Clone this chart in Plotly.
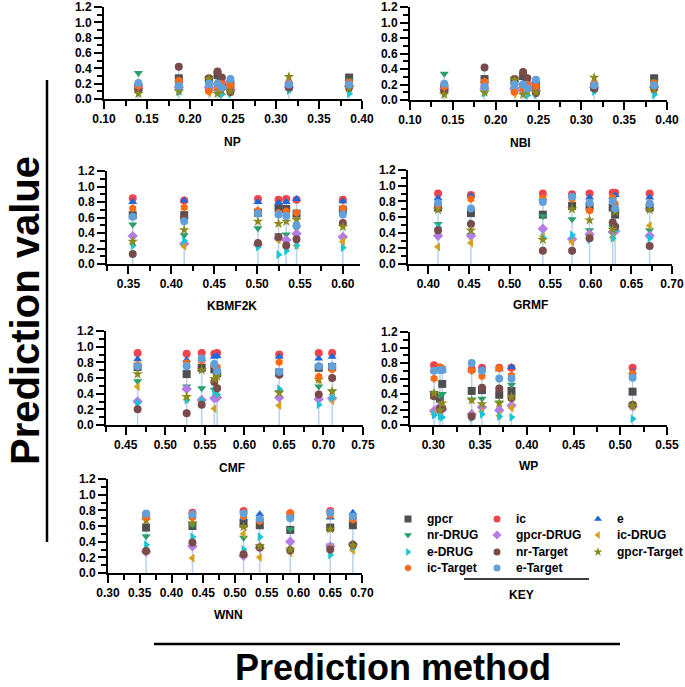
import plotly.graph_objects as go

# ---------------- data ----------------
SERIES = ["gpcr", "ic", "e", "nr-DRUG", "gpcr-DRUG", "ic-DRUG", "e-DRUG",
          "nr-Target", "gpcr-Target", "ic-Target", "e-Target"]

NP_X = [0.140, 0.187, 0.222, 0.232, 0.237, 0.247, 0.315, 0.385]
NP_Y = {
    "gpcr":        [0.15, 0.27, 0.25, 0.31, 0.18, 0.15, 0.17, 0.28],
    "ic":          [0.18, 0.22, 0.12, 0.18, 0.16, 0.20, 0.20, 0.21],
    "e":           [0.20, 0.20, 0.18, 0.22, 0.20, 0.24, 0.22, 0.20],
    "nr-DRUG":     [0.34, 0.10, 0.22, 0.10, 0.12, 0.22, 0.14, 0.24],
    "gpcr-DRUG":   [0.14, 0.15, 0.15, 0.12, 0.22, 0.12, 0.16, 0.17],
    "ic-DRUG":     [0.10, 0.12, 0.08, 0.08, 0.10, 0.14, 0.13, 0.11],
    "e-DRUG":      [0.08, 0.09, 0.13, 0.09, 0.06, 0.07, 0.11, 0.07],
    "nr-Target":   [0.12, 0.42, 0.27, 0.36, 0.28, 0.09, 0.15, 0.15],
    "gpcr-Target": [0.07, 0.10, 0.26, 0.07, 0.11, 0.10, 0.29, 0.14],
    "ic-Target":   [0.17, 0.24, 0.10, 0.15, 0.20, 0.18, 0.21, 0.22],
    "e-Target":    [0.21, 0.17, 0.20, 0.20, 0.15, 0.26, 0.19, 0.19],
}

NBI_X = [0.140, 0.187, 0.222, 0.232, 0.237, 0.247, 0.315, 0.385]
NBI_Y = {
    "gpcr":        [0.15, 0.27, 0.25, 0.31, 0.18, 0.15, 0.17, 0.28],
    "ic":          [0.18, 0.22, 0.12, 0.18, 0.16, 0.20, 0.20, 0.21],
    "e":           [0.20, 0.20, 0.18, 0.22, 0.20, 0.24, 0.22, 0.20],
    "nr-DRUG":     [0.34, 0.10, 0.22, 0.10, 0.12, 0.22, 0.14, 0.24],
    "gpcr-DRUG":   [0.14, 0.15, 0.15, 0.12, 0.22, 0.12, 0.16, 0.17],
    "ic-DRUG":     [0.10, 0.12, 0.08, 0.08, 0.10, 0.14, 0.13, 0.11],
    "e-DRUG":      [0.08, 0.09, 0.13, 0.09, 0.06, 0.07, 0.11, 0.07],
    "nr-Target":   [0.12, 0.42, 0.27, 0.36, 0.28, 0.09, 0.15, 0.15],
    "gpcr-Target": [0.07, 0.10, 0.26, 0.07, 0.11, 0.10, 0.29, 0.14],
    "ic-Target":   [0.17, 0.24, 0.10, 0.15, 0.20, 0.18, 0.21, 0.22],
    "e-Target":    [0.21, 0.17, 0.20, 0.20, 0.15, 0.26, 0.19, 0.19],
}

KBMF_X = [0.355, 0.415, 0.501, 0.525, 0.534, 0.546, 0.600]
KBMF_Y = {
    "gpcr":        [0.63, 0.63, 0.66, 0.72, 0.71, 0.65, 0.70],
    "ic":          [0.85, 0.82, 0.84, 0.83, 0.84, 0.83, 0.83],
    "e":           [0.80, 0.82, 0.80, 0.79, 0.80, 0.84, 0.81],
    "nr-DRUG":     [0.51, 0.37, 0.46, 0.37, 0.38, 0.46, 0.34],
    "gpcr-DRUG":   [0.36, 0.26, 0.25, 0.33, 0.31, 0.39, 0.35],
    "ic-DRUG":     [0.26, 0.23, 0.25, 0.31, 0.22, 0.24, 0.29],
    "e-DRUG":      [0.24, 0.30, 0.22, 0.12, 0.17, 0.24, 0.21],
    "nr-Target":   [0.13, 0.59, 0.27, 0.35, 0.24, 0.32, 0.53],
    "gpcr-Target": [0.29, 0.44, 0.55, 0.52, 0.55, 0.57, 0.48],
    "ic-Target":   [0.72, 0.73, 0.69, 0.66, 0.68, 0.66, 0.72],
    "e-Target":    [0.61, 0.55, 0.65, 0.64, 0.62, 0.50, 0.64],
}

GRMF_X = [0.412, 0.4525, 0.541, 0.577, 0.5985, 0.627, 0.630, 0.6725]
GRMF_Y = {
    "gpcr":        [0.72, 0.65, 0.63, 0.74, 0.73, 0.72, 0.63, 0.72],
    "ic":          [0.90, 0.88, 0.90, 0.89, 0.90, 0.91, 0.91, 0.90],
    "e":           [0.84, 0.87, 0.84, 0.87, 0.85, 0.86, 0.88, 0.85],
    "nr-DRUG":     [0.51, 0.37, 0.61, 0.57, 0.43, 0.47, 0.44, 0.43],
    "gpcr-DRUG":   [0.36, 0.36, 0.45, 0.32, 0.38, 0.41, 0.42, 0.36],
    "ic-DRUG":     [0.22, 0.27, 0.35, 0.28, 0.35, 0.34, 0.45, 0.49],
    "e-DRUG":      [0.47, 0.52, 0.34, 0.37, 0.31, 0.33, 0.43, 0.33],
    "nr-Target":   [0.43, 0.51, 0.17, 0.17, 0.33, 0.53, 0.48, 0.23],
    "gpcr-Target": [0.69, 0.43, 0.31, 0.70, 0.56, 0.44, 0.67, 0.69],
    "ic-Target":   [0.75, 0.83, 0.84, 0.83, 0.68, 0.85, 0.77, 0.78],
    "e-Target":    [0.78, 0.71, 0.79, 0.86, 0.78, 0.80, 0.71, 0.77],
}

CMF_X = [0.465, 0.527, 0.546, 0.562, 0.5655, 0.644, 0.694, 0.711]
CMF_Y = {
    "gpcr":        [0.74, 0.65, 0.73, 0.71, 0.66, 0.67, 0.73, 0.74],
    "ic":          [0.92, 0.91, 0.92, 0.91, 0.92, 0.90, 0.92, 0.92],
    "e":           [0.84, 0.83, 0.84, 0.87, 0.88, 0.87, 0.85, 0.87],
    "nr-DRUG":     [0.56, 0.49, 0.47, 0.45, 0.65, 0.42, 0.49, 0.43],
    "gpcr-DRUG":   [0.30, 0.46, 0.32, 0.34, 0.35, 0.35, 0.33, 0.34],
    "ic-DRUG":     [0.49, 0.33, 0.30, 0.21, 0.40, 0.25, 0.57, 0.31],
    "e-DRUG":      [0.28, 0.32, 0.31, 0.43, 0.39, 0.46, 0.26, 0.35],
    "nr-Target":   [0.20, 0.15, 0.26, 0.55, 0.47, 0.64, 0.39, 0.60],
    "gpcr-Target": [0.65, 0.36, 0.70, 0.59, 0.62, 0.41, 0.58, 0.43],
    "ic-Target":   [0.77, 0.79, 0.82, 0.76, 0.74, 0.80, 0.62, 0.71],
    "e-Target":    [0.75, 0.75, 0.85, 0.78, 0.69, 0.68, 0.75, 0.75],
}

WP_X = [0.3007, 0.307, 0.3095, 0.341, 0.352, 0.3705, 0.3836, 0.5132]
WP_Y = {
    "gpcr":        [0.39, 0.34, 0.53, 0.44, 0.45, 0.39, 0.44, 0.43],
    "ic":          [0.77, 0.74, 0.72, 0.72, 0.74, 0.74, 0.74, 0.74],
    "e":           [0.70, 0.72, 0.70, 0.71, 0.72, 0.72, 0.75, 0.68],
    "nr-DRUG":     [0.41, 0.38, 0.40, 0.33, 0.34, 0.29, 0.52, 0.26],
    "gpcr-DRUG":   [0.18, 0.24, 0.20, 0.14, 0.23, 0.19, 0.25, 0.24],
    "ic-DRUG":     [0.14, 0.18, 0.24, 0.12, 0.17, 0.12, 0.22, 0.24],
    "e-DRUG":      [0.13, 0.11, 0.10, 0.09, 0.14, 0.11, 0.10, 0.08],
    "nr-Target":   [0.37, 0.21, 0.22, 0.11, 0.48, 0.47, 0.35, 0.26],
    "gpcr-Target": [0.41, 0.19, 0.28, 0.32, 0.27, 0.28, 0.36, 0.25],
    "ic-Target":   [0.60, 0.75, 0.73, 0.70, 0.63, 0.73, 0.64, 0.66],
    "e-Target":    [0.70, 0.71, 0.71, 0.80, 0.70, 0.60, 0.60, 0.61],
}

WNN_X = [0.360, 0.433, 0.5135, 0.539, 0.587, 0.650, 0.6856]
WNN_Y = {
    "gpcr":        [0.58, 0.60, 0.63, 0.61, 0.55, 0.58, 0.61],
    "ic":          [0.75, 0.77, 0.79, 0.68, 0.76, 0.79, 0.70],
    "e":           [0.73, 0.73, 0.70, 0.75, 0.74, 0.71, 0.77],
    "nr-DRUG":     [0.47, 0.62, 0.45, 0.34, 0.56, 0.35, 0.36],
    "gpcr-DRUG":   [0.27, 0.34, 0.22, 0.32, 0.40, 0.34, 0.36],
    "ic-DRUG":     [0.30, 0.19, 0.50, 0.20, 0.26, 0.32, 0.29],
    "e-DRUG":      [0.36, 0.46, 0.30, 0.46, 0.29, 0.23, 0.33],
    "nr-Target":   [0.28, 0.39, 0.24, 0.33, 0.29, 0.30, 0.36],
    "gpcr-Target": [0.67, 0.64, 0.59, 0.34, 0.30, 0.56, 0.35],
    "ic-Target":   [0.71, 0.71, 0.72, 0.66, 0.77, 0.74, 0.68],
    "e-Target":    [0.76, 0.75, 0.76, 0.69, 0.70, 0.77, 0.72],
}

PANEL_NAMES = ["NP", "NBI", "KBMF2K", "GRMF", "CMF", "WP", "WNN"]
PANEL_X = [NP_X, NBI_X, KBMF_X, GRMF_X, CMF_X, WP_X, WNN_X]
PANEL_Y = [NP_Y, NBI_Y, KBMF_Y, GRMF_Y, CMF_Y, WP_Y, WNN_Y]
X_RANGES = [[0.10, 0.40], [0.10, 0.40], [0.325, 0.62], [0.375, 0.70],
            [0.425, 0.75], [0.275, 0.55], [0.30, 0.70]]

# ---------------- styles ----------------
W, H = 685, 687
FONT = "Arial, 'Liberation Sans', sans-serif"
STYLE = {
    "gpcr":        dict(symbol="square", color="#4f4f4f"),
    "ic":          dict(symbol="circle", color="#f0444c"),
    "e":           dict(symbol="triangle-up", color="#1f68d8"),
    "nr-DRUG":     dict(symbol="triangle-down", color="#2b9f6b"),
    "gpcr-DRUG":   dict(symbol="diamond", color="#b47de6"),
    "ic-DRUG":     dict(symbol="triangle-left", color="#d6a01c"),
    "e-DRUG":      dict(symbol="triangle-right", color="#19c4d4"),
    "nr-Target":   dict(symbol="circle", color="#7a4b4b"),
    "gpcr-Target": dict(symbol="star", color="#8b8a1e"),
    "ic-Target":   dict(symbol="hexagon", color="#ff6a12"),
    "e-Target":    dict(symbol="circle", color="#62a0da"),
}

# panel boxes in pixels: (left, right, top, bottom)
BOXES = [(104, 362, 7, 99), (410, 667, 7, 100),
         (107, 360, 171, 264), (408, 672, 170, 264),
         (106, 363, 331, 425), (410, 667, 332, 425),
         (108, 362, 479, 573)]
TITLE_POS = [(232, 142), (520, 143), (232, 306), (530, 305),
             (232, 468), (528, 466), (228, 615)]


def px(x):
    return x / W


def py(y):
    return 1 - y / H


fig = go.Figure()
layout = dict(
    width=W, height=H, margin=dict(l=0, r=0, t=0, b=0, autoexpand=False),
    paper_bgcolor="white", plot_bgcolor="white", showlegend=False,
    font=dict(family=FONT, color="black"),
)
annotations = []

for i, name in enumerate(PANEL_NAMES):
    n = i + 1
    xa = "x" if n == 1 else f"x{n}"
    ya = "y" if n == 1 else f"y{n}"
    xs = PANEL_X[i]
    ys = PANEL_Y[i]
    # drop lines from zero to top of each stack
    lx, ly = [], []
    for j, xv in enumerate(xs):
        top = max(ys[s][j] for s in SERIES)
        lx += [xv, xv, None]
        ly += [0, top, None]
    fig.add_trace(go.Scatter(x=lx, y=ly, mode="lines", xaxis=xa, yaxis=ya,
                             line=dict(color="#b9d3ec", width=1.5),
                             hoverinfo="skip"))
    for s in SERIES:
        st = STYLE[s]
        fig.add_trace(go.Scatter(
            x=xs, y=ys[s], mode="markers", name=s, xaxis=xa, yaxis=ya,
            marker=dict(symbol=st["symbol"], color=st["color"], size=8,
                        line=dict(width=0))))
    l, r, t, b = BOXES[i]
    axcommon = dict(showgrid=False, zeroline=False, showline=True,
                    linecolor="black", linewidth=2, ticks="outside",
                    tickwidth=2, tickcolor="black", ticklen=8,
                    automargin=False,
                    tickfont=dict(family=FONT, size=12, weight="bold"))
    layout["xaxis" if n == 1 else f"xaxis{n}"] = dict(
        domain=[px(l), px(r)], anchor=ya, range=X_RANGES[i],
        tick0=0, dtick=0.05, tickformat=".2f",
        minor=dict(dtick=0.025, ticks="outside", ticklen=5, tickwidth=2,
                   tickcolor="black", showgrid=False),
        **axcommon)
    layout["yaxis" if n == 1 else f"yaxis{n}"] = dict(
        domain=[py(b), py(t)], anchor=xa, range=[0, 1.2],
        tick0=0, dtick=0.2, tickformat=".1f",
        minor=dict(dtick=0.1, ticks="outside", ticklen=5, tickwidth=2,
                   tickcolor="black", showgrid=False),
        **axcommon)
    tx, ty = TITLE_POS[i]
    annotations.append(dict(text=f"<b>{name}</b>", x=px(tx), y=py(ty),
                            xref="paper", yref="paper", showarrow=False,
                            font=dict(size=12, family=FONT),
                            xanchor="center", yanchor="middle"))

# ---------------- legend (KEY) ----------------
LEG_COL_X = [408, 497, 598]
LEG_ROW_Y = [519, 535, 552, 568]
LEG_TEXT_DX = 17
for k, s in enumerate(SERIES):
    col = k % 3
    row = k // 3
    st = STYLE[s]
    fig.add_trace(go.Scatter(
        x=[LEG_COL_X[col]], y=[LEG_ROW_Y[row]], mode="markers",
        xaxis="x8", yaxis="y8",
        marker=dict(symbol=st["symbol"], color=st["color"], size=7,
                    line=dict(width=0)), hoverinfo="skip"))
    annotations.append(dict(text=f"<b>{s}</b>",
                            x=px(LEG_COL_X[col] + LEG_TEXT_DX),
                            y=py(LEG_ROW_Y[row]), xref="paper", yref="paper",
                            showarrow=False, xanchor="left", yanchor="middle",
                            font=dict(size=12, family=FONT)))
layout["xaxis8"] = dict(domain=[px(380), px(680)], range=[380, 680],
                        anchor="y8", visible=False, fixedrange=True,
                        automargin=False)
layout["yaxis8"] = dict(domain=[py(590), py(505)], range=[590, 505],
                        anchor="x8", visible=False, fixedrange=True,
                        automargin=False)

annotations.append(dict(text="<b>KEY</b>", x=px(521), y=py(595),
                        xref="paper", yref="paper", showarrow=False,
                        xanchor="center", yanchor="middle",
                        font=dict(size=12, family=FONT)))
annotations.append(dict(text="<b>Prediction value</b>", x=px(25), y=py(311),
                        xref="paper", yref="paper", showarrow=False,
                        xanchor="center", yanchor="middle",
                        textangle=-90, font=dict(size=40, family=FONT)))
annotations.append(dict(text="<b>Prediction method</b>", x=px(393), y=0,
                        xref="paper", yref="paper", showarrow=False,
                        xanchor="center", yanchor="bottom", yshift=-3,
                        font=dict(size=36, family=FONT)))

shapes = [
    dict(type="line", xref="paper", yref="paper", x0=px(47), x1=px(47),
         y0=py(80), y1=py(542), line=dict(color="black", width=2.5)),
    dict(type="line", xref="paper", yref="paper", x0=px(154), x1=px(620),
         y0=py(644), y1=py(644), line=dict(color="black", width=2.5)),
    dict(type="line", xref="paper", yref="paper", x0=px(464), x1=px(589),
         y0=py(579), y1=py(579), line=dict(color="black", width=1.5)),
]

layout["annotations"] = annotations
layout["shapes"] = shapes
fig.update_layout(**layout)
fig.write_html(
    "out.html",
    config={"displayModeBar": False},
    post_script="document.body.style.margin='0';"
                "document.body.style.padding='0';"
                "document.body.style.overflow='hidden';",
)
